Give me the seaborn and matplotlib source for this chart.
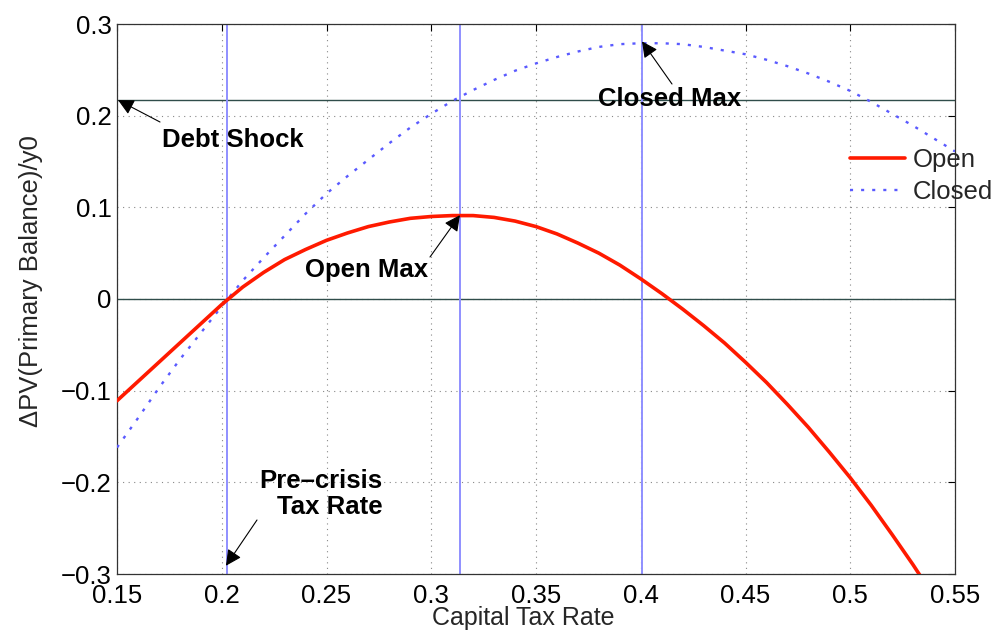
import numpy as np
import pandas as pd
import matplotlib
matplotlib.use("Agg")
import matplotlib.pyplot as plt
import seaborn as sns

# ---- data ----
tax_rate = [0.15, 0.16, 0.17, 0.18, 0.19, 0.20, 0.21, 0.22, 0.23, 0.24,
            0.25, 0.26, 0.27, 0.28, 0.29, 0.30, 0.31, 0.32, 0.33, 0.34,
            0.35, 0.36, 0.37, 0.38, 0.39, 0.40, 0.41, 0.42, 0.43, 0.44,
            0.45, 0.46, 0.47, 0.48, 0.49, 0.50, 0.51, 0.52, 0.53, 0.54, 0.55]
open_pv = [-0.111, -0.090, -0.069, -0.048, -0.027, -0.006, 0.013, 0.029, 0.043, 0.054,
           0.064, 0.072, 0.079, 0.084, 0.088, 0.090, 0.091, 0.091, 0.089, 0.085,
           0.079, 0.071, 0.061, 0.050, 0.037, 0.022, 0.006, -0.011, -0.029, -0.048,
           -0.069, -0.091, -0.115, -0.140, -0.167, -0.195, -0.225, -0.257, -0.290, -0.325, -0.361]
closed_pv = [-0.162, -0.130, -0.097, -0.066, -0.037, -0.008, 0.020, 0.045, 0.069, 0.093,
             0.115, 0.134, 0.152, 0.170, 0.187, 0.202, 0.216, 0.228, 0.239, 0.249,
             0.257, 0.264, 0.270, 0.275, 0.278, 0.279, 0.279, 0.278, 0.275, 0.271,
             0.267, 0.261, 0.254, 0.246, 0.237, 0.227, 0.215, 0.202, 0.189, 0.175, 0.161]

debt_shock = 0.217
pre_crisis_rate = 0.2025
open_max_rate = 0.3137
closed_max_rate = 0.4006

x_ticks = [0.15, 0.2, 0.25, 0.3, 0.35, 0.4, 0.45, 0.5, 0.55]
x_tick_labels = ["0.15", "0.2", "0.25", "0.3", "0.35", "0.4", "0.45", "0.5", "0.55"]
y_ticks = [-0.3, -0.2, -0.1, 0, 0.1, 0.2, 0.3]
y_tick_labels = ["\u22120.3", "\u22120.2", "\u22120.1", "0", "0.1", "0.2", "0.3"]

# ---- styling ----
sns.set_style("white")
plt.rcParams['font.family'] = ['Liberation Sans', 'DejaVu Sans']
plt.rcParams['axes.unicode_minus'] = True
FS = 18.5

fig = plt.figure(figsize=(9.98, 6.30), dpi=100)
ax = fig.add_axes([117/998, 1 - 574/630, 838/998, 550/630])

df_open = pd.DataFrame({"rate": tax_rate, "pv": open_pv})
df_closed = pd.DataFrame({"rate": tax_rate, "pv": closed_pv})

# reference lines
ax.axhline(0, color="#2f4d4a", lw=1.0, zorder=2)
ax.axhline(debt_shock, color="#2f4d4a", lw=1.0, zorder=2)
for xv in [pre_crisis_rate, open_max_rate, closed_max_rate]:
    ax.axvline(xv, color="#8f8fff", lw=1.4, zorder=2)

sns.lineplot(data=df_open, x="rate", y="pv", ax=ax, color="#ff1a00", lw=2.6,
             label="Open", zorder=4)
sns.lineplot(data=df_closed, x="rate", y="pv", ax=ax, color="#5a5aff", lw=1.7,
             linestyle=(0, (1.3, 3.4)), label="Closed", zorder=3)

ax.set_xlim(0.15, 0.55)
ax.set_ylim(-0.3, 0.3)
ax.set_xticks(x_ticks)
ax.set_xticklabels(x_tick_labels)
ax.set_yticks(y_ticks)
ax.set_yticklabels(y_tick_labels)
ax.tick_params(direction="in", length=5, width=0.8, top=True, right=True,
               labelsize=FS, colors="black", pad=4)
ax.tick_params(axis="x", pad=7)
ax.grid(True, linestyle=(0, (1, 4)), color="#888888", lw=0.8)
for s in ax.spines.values():
    s.set_visible(True)
    s.set_color("#333333")
    s.set_linewidth(0.9)

ax.set_xlabel("Capital Tax Rate", fontsize=18)
ax.set_ylabel("\u0394PV(Primary Balance)/y0", fontsize=FS)
ax.xaxis.set_label_coords((523 - 117) / 838, (574 - 606.5) / 550)
ax.yaxis.set_label_coords((43 - 117) / 838, (574 - 281) / 550)

# annotations
def px(xp, yp):
    return (0.15 + (xp - 117) / 838 * 0.4, (299 - yp) / 916.7)

arrow = dict(arrowstyle="-|>", color="black", lw=0.8, mutation_scale=24,
             shrinkA=0, shrinkB=0)
bold = dict(fontsize=18.5, fontweight="bold", color="black")

ax.annotate("", xy=(0.1505, debt_shock), xytext=px(160, 122), arrowprops=arrow, zorder=6)
ax.text(*px(233, 140), "Debt Shock", ha="center", va="center", **bold)

ax.annotate("", xy=(closed_max_rate, 0.281), xytext=px(672, 84), arrowprops=arrow, zorder=6)
ax.text(*px(670, 99), "Closed Max", ha="center", va="center", **bold)

ax.annotate("", xy=(open_max_rate, 0.0915), xytext=px(430, 257), arrowprops=arrow, zorder=6)
ax.text(*px(367, 270), "Open Max", ha="center", va="center", **bold)

ax.annotate("", xy=(pre_crisis_rate - 0.0005, -0.291), xytext=px(257, 520), arrowprops=arrow, zorder=6)
ax.text(*px(321, 494), "Pre\u2013crisis\nTax Rate", ha="center", va="center",
        multialignment="right", linespacing=1.15, **bold)

leg = ax.legend(loc="upper left", bbox_to_anchor=((850 - 117) / 838, (574 - 148) / 550),
                frameon=False, fontsize=FS, handlelength=2.15, handletextpad=0.3,
                labelspacing=0.3, borderpad=0, borderaxespad=0)
leg.set_zorder(10)

fig.savefig("out.png", dpi=100)
